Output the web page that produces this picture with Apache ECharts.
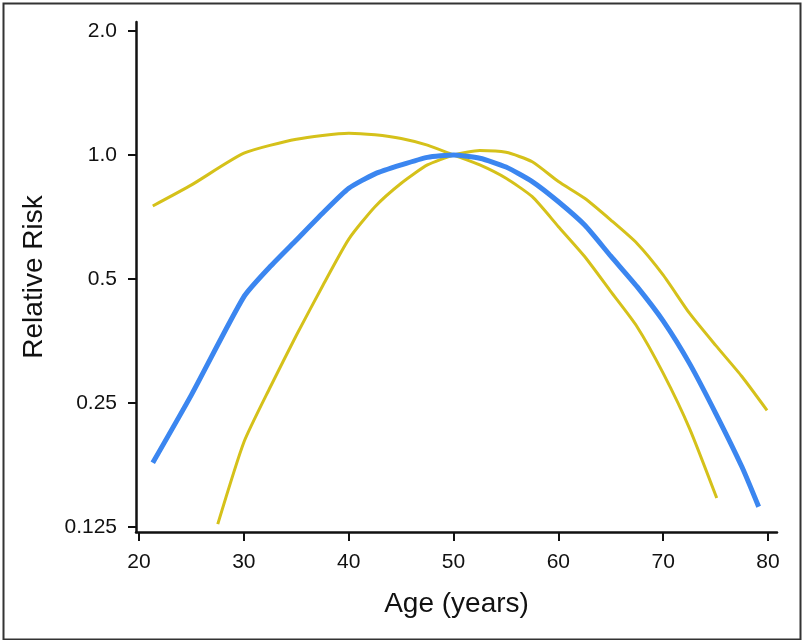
<!DOCTYPE html>
<html>
<head>
<meta charset="utf-8">
<script src="https://cdn.jsdelivr.net/npm/echarts@6/dist/echarts.min.js"></script>
<style>html,body{margin:0;padding:0;background:#fff}#c{width:802px;height:640px}</style>
</head>
<body>
<div id="c"></div>
<script>
// ---- data ----
const xTicks = [20, 30, 40, 50, 60, 70, 80];
const yTicks = [0.125, 0.25, 0.5, 1.0, 2.0];

const estAges = [21.3, 25, 30, 32.5, 35, 37.5, 40, 42.5, 45, 47.5, 50, 52.5, 55, 57.5, 60, 62.5, 65, 67.5, 70, 72.5, 75, 77.5, 79.1];
const estRR   = [0.179, 0.262, 0.453, 0.536, 0.622, 0.722, 0.83, 0.90, 0.946, 0.987, 1.0, 0.982, 0.935, 0.862, 0.77, 0.676, 0.568, 0.479, 0.395, 0.312, 0.236, 0.175, 0.140];

const ciAAges = [21.3, 25, 30, 35, 40, 42.5, 45, 47.5, 50, 52.5, 55, 57.5, 60, 62.5, 65, 67.5, 70, 72.5, 75.1];
const ciARR   = [0.752, 0.846, 1.01, 1.092, 1.13, 1.12, 1.097, 1.057, 1.0, 0.946, 0.878, 0.792, 0.67, 0.567, 0.466, 0.383, 0.295, 0.217, 0.147];

const ciBAges = [27.5, 30, 32.5, 35, 37.5, 40, 42.5, 45, 47.5, 50, 52.5, 55, 57.5, 60, 62.5, 65, 67.5, 70, 72.5, 75, 77.5, 79.9];
const ciBRR   = [0.127, 0.201, 0.273, 0.365, 0.481, 0.625, 0.749, 0.854, 0.946, 1.0, 1.025, 1.015, 0.963, 0.862, 0.785, 0.695, 0.61, 0.511, 0.413, 0.345, 0.29, 0.24];

const BLUE = '#3b86f0';
const YELLOW = '#d5c11a';
const INK = '#111';
const FONT = 'Liberation Sans';

const pairs = (xs, ys) => xs.map((x, i) => [x, ys[i]]);
const fmtY = v => { const r = Math.round(v * 1000) / 1000; return r >= 1 ? r.toFixed(1) : String(r); };

const chart = echarts.init(document.getElementById('c'), null, {renderer: 'canvas'});
chart.setOption({
  backgroundColor: '#fff',
  animation: false,
  textStyle: {fontFamily: FONT},
  graphic: [{
    type: 'rect', left: 1, top: 1, shape: {width: 797, height: 636},
    style: {fill: 'none', stroke: '#333', lineWidth: 2}, silent: true
  }],
  grid: [
    {left: 136, top: 22, width: 641, height: 510},
    {left: 139, top: 31, width: 629, height: 496}
  ],
  xAxis: [
    {
      type: 'value', gridIndex: 0, min: 19.7, max: 80.85,
      axisLine: {show: true, lineStyle: {color: INK, width: 2.5}},
      axisTick: {show: false}, axisLabel: {show: false}, splitLine: {show: false},
      name: 'Age (years)', nameLocation: 'middle', nameGap: 58,
      nameTextStyle: {fontSize: 28, color: INK, fontFamily: FONT}
    },
    {
      type: 'value', gridIndex: 1, min: xTicks[0], max: xTicks[xTicks.length - 1], interval: 10, offset: 5,
      axisLine: {show: false},
      axisTick: {show: true, length: 9, lineStyle: {color: INK, width: 2}},
      axisLabel: {fontSize: 21, color: INK, margin: 20, fontFamily: FONT},
      splitLine: {show: false}
    }
  ],
  yAxis: [
    {
      type: 'log', logBase: 2, gridIndex: 0,
      min: Math.pow(2, -3.0403), max: Math.pow(2, 1.0726),
      axisLine: {show: true, lineStyle: {color: INK, width: 2.5}},
      axisTick: {show: false}, axisLabel: {show: false}, splitLine: {show: false},
      name: 'Relative Risk', nameLocation: 'middle', nameGap: 88, nameRotate: 90,
      nameTextStyle: {fontSize: 28, color: INK, fontFamily: FONT}
    },
    {
      type: 'log', logBase: 2, gridIndex: 1, min: yTicks[0], max: yTicks[yTicks.length - 1],
      splitNumber: 4, offset: 3,
      axisLine: {show: false},
      axisTick: {show: true, length: 8, lineStyle: {color: INK, width: 2}},
      axisLabel: {fontSize: 21, color: INK, margin: 19, formatter: fmtY, fontFamily: FONT},
      splitLine: {show: false}
    }
  ],
  series: [
    {type: 'line', xAxisIndex: 0, yAxisIndex: 0, data: pairs(ciAAges, ciARR), showSymbol: false, smooth: 0.2,
     lineStyle: {color: YELLOW, width: 3}, z: 2},
    {type: 'line', xAxisIndex: 0, yAxisIndex: 0, data: pairs(ciBAges, ciBRR), showSymbol: false, smooth: 0.2,
     lineStyle: {color: YELLOW, width: 3}, z: 2},
    {type: 'line', xAxisIndex: 0, yAxisIndex: 0, data: pairs(estAges, estRR), showSymbol: false, smooth: 0.2,
     lineStyle: {color: BLUE, width: 5}, z: 3}
  ]
});
</script>
</body>
</html>
